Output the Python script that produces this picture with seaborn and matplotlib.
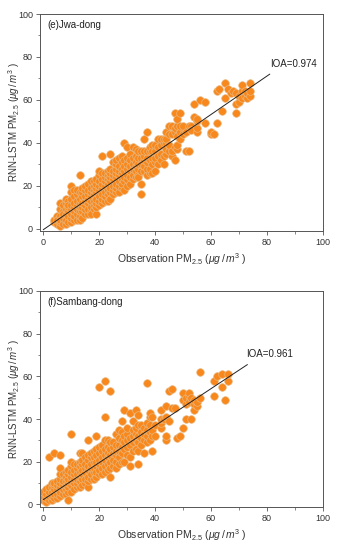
import matplotlib
matplotlib.use("Agg")
import matplotlib.pyplot as plt
import seaborn as sns
import numpy as np
from matplotlib.ticker import MultipleLocator

# ---------------- data (e) Jwa-dong ----------------
cols_e = {
    4: [3, 4], 5: [2, 5, 6, 4], 6: [1, 3, 6, 9, 12, 4], 7: [2, 5, 8, 11, 7],
    8: [2, 4, 7, 9, 12, 14], 9: [3, 6, 8, 10, 13, 11],
    10: [3, 5, 7, 9, 11, 14, 20, 17], 11: [4, 6, 8, 10, 12, 15, 18],
    12: [4, 7, 9, 11, 13, 16, 18], 13: [4, 6, 8, 10, 12, 14, 17, 25],
    14: [5, 8, 10, 12, 15, 17, 19], 15: [7, 9, 11, 13, 15, 18, 20],
    16: [7, 9, 12, 14, 16, 18, 21], 17: [8, 10, 13, 15, 17, 19, 22, 7],
    18: [9, 11, 13, 16, 18, 20, 22], 19: [7, 10, 12, 14, 17, 19, 21, 23],
    20: [11, 13, 15, 18, 20, 22, 25, 27], 21: [12, 14, 16, 19, 21, 23, 26, 34],
    22: [13, 15, 17, 20, 22, 24, 26], 23: [13, 16, 18, 21, 23, 25, 27],
    24: [14, 17, 19, 22, 24, 26, 28, 35], 25: [16, 18, 20, 23, 25, 27, 31],
    26: [17, 19, 21, 24, 26, 28, 30, 32], 27: [17, 20, 22, 25, 27, 29, 33],
    28: [19, 21, 23, 26, 28, 31, 34], 29: [18, 22, 24, 27, 29, 32, 40],
    30: [20, 23, 25, 28, 30, 33, 38], 31: [21, 24, 27, 29, 32, 35],
    32: [23, 25, 28, 30, 33, 38], 33: [24, 27, 29, 31, 34, 37],
    34: [25, 28, 30, 33, 36, 24], 35: [16, 21, 27, 30, 33, 36],
    36: [27, 29, 32, 34, 42, 36], 37: [25, 28, 31, 33, 36, 45],
    38: [26, 28, 32, 36, 38], 39: [26, 30, 33, 36, 39], 40: [27, 31, 33, 36, 39],
    41: [30, 34, 38, 42], 42: [32, 35, 39, 42], 43: [30, 34, 40, 42],
    44: [35, 37, 40, 42, 45], 45: [36, 39, 44, 48], 46: [34, 36, 44, 48],
    47: [32, 38, 45, 47, 54], 48: [37, 39, 43, 48, 51], 49: [42, 45, 48, 54],
    50: [44, 48], 51: [36, 45], 52: [36, 48], 53: [48, 46], 54: [52, 58],
    55: [45, 47, 50, 51], 56: [60], 58: [49, 59], 60: [44, 45], 61: [44],
    62: [49, 64], 63: [65], 64: [55], 65: [61, 68], 66: [65], 67: [63],
    68: [64], 69: [54, 58, 63], 70: [59, 62], 71: [64, 67, 61], 72: [62, 64],
    73: [61, 63], 74: [62, 64, 68],
}
obs_e = [x for x, ys in cols_e.items() for _ in ys]
pred_e = [y for ys in cols_e.values() for y in ys]
fit_e_x = [0, 81]
fit_e_y = [-0.5, 72]
ioa_e = "IOA=0.974"
title_e = "(e)Jwa-dong"

# ---------------- data (f) Sambang-dong ----------------
cols_f = {
    0: [2, 4, 6], 1: [1, 3, 5, 7], 2: [2, 4, 6, 8, 22], 3: [2, 4, 6, 8, 10],
    4: [3, 5, 7, 9, 10, 24], 5: [3, 5, 7, 9, 11], 6: [4, 6, 8, 10, 12, 14, 17, 23],
    7: [5, 7, 9, 11, 14], 8: [5, 7, 9, 11, 13, 15], 9: [2, 6, 8, 10, 12, 14, 16],
    10: [6, 9, 11, 13, 15, 18, 20, 33], 11: [7, 10, 12, 14, 16, 19],
    12: [8, 10, 12, 14, 17, 19], 13: [8, 11, 13, 15, 18, 20, 24],
    14: [9, 12, 14, 16, 19, 21, 24], 15: [10, 12, 15, 17, 19, 22],
    16: [8, 11, 13, 16, 18, 21, 23, 30], 17: [12, 14, 17, 19, 22, 24],
    18: [12, 15, 17, 20, 22, 25], 19: [13, 15, 18, 20, 23, 26, 32],
    20: [14, 16, 19, 21, 24, 27, 55], 21: [14, 17, 20, 22, 25, 28],
    22: [15, 18, 21, 23, 26, 30, 41, 58], 23: [16, 19, 22, 24, 27, 30],
    24: [13, 17, 20, 23, 26, 29, 53], 25: [18, 21, 24, 27, 29],
    26: [17, 20, 23, 25, 28, 33], 27: [19, 22, 25, 28, 31, 35],
    28: [20, 24, 27, 30, 34, 39], 29: [20, 26, 29, 32, 44],
    30: [23, 27, 30, 33, 36], 31: [18, 22, 28, 31, 43], 32: [25, 29, 32, 35, 39],
    33: [26, 30, 33, 36, 44], 34: [19, 25, 29, 32, 37, 42], 35: [28, 31, 34, 37],
    36: [24, 30, 33, 36], 37: [29, 32, 35, 38, 57], 38: [30, 34, 37, 41, 43],
    39: [25, 32, 35, 41], 40: [32, 37], 42: [36, 38, 40, 44], 43: [40],
    44: [30, 32, 41, 46], 45: [39, 53], 46: [45, 54], 47: [45], 48: [31],
    49: [32], 50: [36, 49, 52], 51: [40, 47, 50], 52: [48, 51, 52], 53: [40, 50],
    54: [44, 47, 49], 55: [46, 48], 56: [50, 62], 61: [51, 58], 62: [60],
    64: [55, 61], 65: [49], 66: [58, 61],
}
obs_f = [x for x, ys in cols_f.items() for _ in ys]
pred_f = [y for ys in cols_f.values() for y in ys]
fit_f_x = [0, 73]
fit_f_y = [2.2, 65.5]
ioa_f = "IOA=0.961"
title_f = "(f)Sambang-dong"

ticks = [0, 20, 40, 60, 80, 100]

# ---------------- style ----------------
sns.set_style("white")
plt.rcParams["font.family"] = ["Liberation Sans", "DejaVu Sans"]
plt.rcParams["mathtext.fontset"] = "custom"
plt.rcParams["mathtext.rm"] = "Liberation Sans"
plt.rcParams["mathtext.it"] = "Liberation Sans:italic"

fig = plt.figure(figsize=(3.41, 5.5), dpi=100)
ax1 = fig.add_axes([0.117, 0.58, 0.830, 0.3945])
ax2 = fig.add_axes([0.117, 0.0787, 0.830, 0.3923])

face = "#F8871C"
edge = "#E9B77E"
spine_c = "#555555"

xlabel = r"Observation PM$_{2.5}$ ($\mathit{\mu g\,/\,m^{3}}$ )"
ylabel = r"RNN-LSTM PM$_{2.5}$ ($\mathit{\mu g\,/\,m^{3}}$ )"

for ax, xo, yp, fx, fy, ioa, title, ioa_pos in [
    (ax1, obs_e, pred_e, fit_e_x, fit_e_y, ioa_e, title_e, (81, 74.5)),
    (ax2, obs_f, pred_f, fit_f_x, fit_f_y, ioa_f, title_f, (72.5, 68)),
]:
    sns.scatterplot(x=xo, y=yp, ax=ax, s=30, color=face, edgecolor=edge,
                    linewidth=0.5, zorder=2, legend=False)
    sns.lineplot(x=fx, y=fy, ax=ax, color="#222222", lw=0.7, zorder=3)
    ax.set_xlim(-1.2, 100)
    ax.set_ylim(-1.1, 100)
    ax.set_xticks(ticks)
    ax.set_yticks(ticks)
    ax.xaxis.set_minor_locator(MultipleLocator(10))
    ax.yaxis.set_minor_locator(MultipleLocator(10))
    ax.tick_params(axis="both", which="major", direction="out", length=3,
                   width=0.6, color=spine_c, labelsize=6.5, labelcolor="#333333",
                   bottom=True, left=True, top=False, right=False, pad=2)
    ax.tick_params(axis="both", which="minor", direction="out", length=1.8,
                   width=0.5, color=spine_c, bottom=True, left=True,
                   top=False, right=False)
    for sp in ax.spines.values():
        sp.set_color(spine_c)
        sp.set_linewidth(0.7)
    ax.set_xlabel(xlabel, fontsize=7.5, color="#333333", labelpad=3)
    ax.set_ylabel(ylabel, fontsize=7, color="#333333")
    ax.yaxis.set_label_coords(-0.062, 0.5)
    ax.text(1.5, 95, title, fontsize=7, color="#222222", va="center", ha="left")
    ax.text(ioa_pos[0], ioa_pos[1], ioa, fontsize=7, color="#222222",
            va="bottom", ha="left")

fig.savefig("out.png", dpi=100)
